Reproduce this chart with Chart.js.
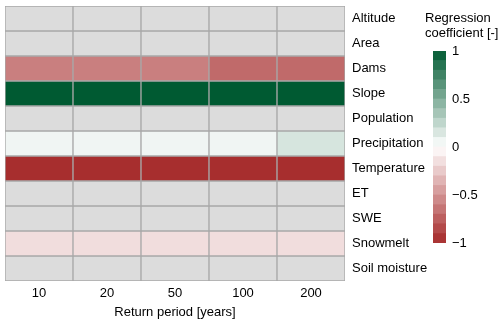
<!DOCTYPE html>
<html>
<head>
<meta charset="utf-8">
<script src="https://cdn.jsdelivr.net/npm/chart.js@4"></script>
<style>
  body { margin: 0; background: #fff; }
  #wrap { position: relative; width: 500px; height: 323px; font-family: 'Liberation Sans', Arial, sans-serif; }
  #heat { position: absolute; left: 0; top: 0; }
  #bar { position: absolute; left: 425px; top: 0; }
  #barTitle { position: absolute; left: 425px; top: 10px; font-size: 13px; line-height: 15px; color: #000; }
</style>
</head>
<body>
<div id="wrap">
  <canvas id="heat" width="500" height="323"></canvas>
  <canvas id="bar" width="75" height="323"></canvas>
  <div id="barTitle">Regression<br>coefficient [-]</div>
</div>
<script>
const returnPeriods = ['10', '20', '50', '100', '200'];
const variables = ['Altitude', 'Area', 'Dams', 'Slope', 'Population', 'Precipitation',
                   'Temperature', 'ET', 'SWE', 'Snowmelt', 'Soil moisture'];

// regression coefficient per variable, one value per return period (null = not selected)
const altitude      = [null, null, null, null, null];
const area          = [null, null, null, null, null];
const dams          = [-0.60, -0.60, -0.60, -0.70, -0.70];
const slope         = [1.00, 1.00, 1.00, 1.00, 1.00];
const population    = [null, null, null, null, null];
const precipitation = [0.06, 0.06, 0.06, 0.06, 0.16];
const temperature   = [-0.98, -0.98, -0.98, -0.98, -0.98];
const et            = [null, null, null, null, null];
const swe           = [null, null, null, null, null];
const snowmelt      = [-0.16, -0.16, -0.16, -0.16, -0.16];
const soilMoisture  = [null, null, null, null, null];

const coefficients = [altitude, area, dams, slope, population, precipitation,
                      temperature, et, swe, snowmelt, soilMoisture];

// colour bar bins and ticks
const legendEdges = [-1, -0.9, -0.8, -0.7, -0.6, -0.5, -0.4, -0.3, -0.2, -0.1, 0,
                     0.1, 0.2, 0.3, 0.4, 0.5, 0.6, 0.7, 0.8, 0.9, 1];
const legendTicks = [-1, -0.5, 0, 0.5, 1];

Chart.defaults.font.family = "'Liberation Sans', Arial, sans-serif";
Chart.defaults.font.size = 13;
Chart.defaults.color = '#000';

function coefColor(v) {
  if (v === null) return '#dcdcdc';
  const mid = [255, 255, 255];
  const end = v < 0 ? [165, 42, 42] : [0, 90, 50];
  const t = Math.min(1, Math.abs(v));
  const c = mid.map((m, k) => Math.round(m + (end[k] - m) * t));
  return 'rgb(' + c.join(',') + ')';
}

// heatmap: one floating-bar dataset per variable row
new Chart(document.getElementById('heat'), {
  type: 'bar',
  data: {
    labels: returnPeriods,
    datasets: variables.map((name, i) => ({
      label: name,
      data: coefficients[i].map(() => [i, i + 1]),
      backgroundColor: coefficients[i].map(coefColor),
      borderColor: '#a8a8a8',
      borderWidth: 1,
      borderSkipped: false,
      grouped: false,
      barPercentage: 1,
      categoryPercentage: 1,
    })),
  },
  options: {
    responsive: false,
    animation: false,
    layout: { padding: { left: 5, top: 6 } },
    plugins: { legend: { display: false }, tooltip: { enabled: false } },
    scales: {
      x: {
        type: 'category',
        grid: { display: false, drawTicks: false },
        border: { display: false },
        ticks: { padding: 5 },
        title: { display: true, text: 'Return period [years]', padding: { top: 4, bottom: 3 } },
        afterFit: s => { s.height = 42; },
      },
      y: {
        type: 'linear',
        position: 'right',
        min: 0,
        max: variables.length,
        reverse: true,
        grid: { display: false, drawTicks: false },
        border: { display: false },
        ticks: { padding: 7, autoSkip: false, callback: v => variables[Math.floor(v)] },
        afterBuildTicks: s => { s.ticks = variables.map((_, i) => ({ value: i + 0.5 })); },
        afterFit: s => { s.width = 155; s.paddingTop = 0; s.paddingBottom = 0; },
      },
    },
  },
});

// colour bar legend
new Chart(document.getElementById('bar'), {
  type: 'bar',
  data: {
    labels: [''],
    datasets: legendEdges.slice(0, -1).map((lo, k) => ({
      data: [[lo, legendEdges[k + 1]]],
      backgroundColor: coefColor((lo + legendEdges[k + 1]) / 2),
      borderWidth: 0,
      grouped: false,
      barPercentage: 1,
      categoryPercentage: 1,
    })),
  },
  options: {
    responsive: false,
    animation: false,
    layout: { padding: { left: 8, top: 51, bottom: 80 } },
    plugins: { legend: { display: false }, tooltip: { enabled: false } },
    scales: {
      x: { display: false },
      y: {
        position: 'right',
        min: -1,
        max: 1,
        grid: { display: false, drawTicks: false },
        border: { display: false },
        ticks: {
          padding: 6,
          callback: v => v < 0 ? '\u2212' + Math.abs(v) : String(v),
        },
        afterBuildTicks: s => { s.ticks = legendTicks.map(v => ({ value: v })); },
        afterFit: s => { s.width = 54; s.paddingTop = 0; s.paddingBottom = 0; },
      },
    },
  },
});
</script>
</body>
</html>
